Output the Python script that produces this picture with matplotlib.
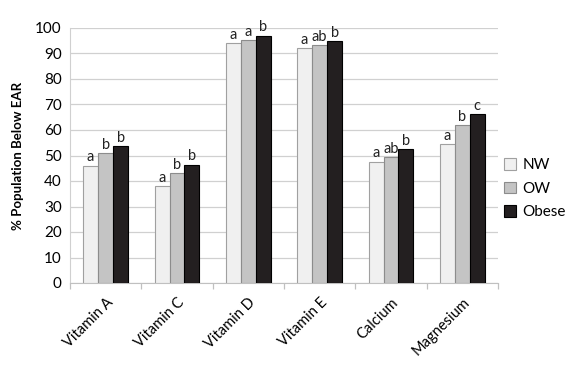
import numpy as np
import matplotlib.pyplot as plt

plt.rcParams['font.family'] = ['Lato', 'DejaVu Sans']

nutrients = ['Vitamin A', 'Vitamin C', 'Vitamin D', 'Vitamin E', 'Calcium', 'Magnesium']
groups = ['NW', 'OW', 'Obese']
nw = [46.0, 38.0, 94.1, 92.0, 47.6, 54.4]
ow = [50.9, 43.1, 95.2, 93.2, 49.3, 61.8]
obese = [53.8, 46.4, 97.0, 94.8, 52.4, 66.3]
nw_sig = ['a', 'a', 'a', 'a', 'a', 'a']
ow_sig = ['b', 'b', 'a', 'ab', 'ab', 'b']
obese_sig = ['b', 'b', 'b', 'b', 'b', 'c']

colors = ['#f0f0f0', '#c4c4c4', '#231f20']
edges = ['#a0a0a0', '#8c8c8c', '#000000']

fig = plt.figure(figsize=(5.7, 3.66), dpi=100)
ax = fig.add_axes([70 / 570, 1 - 283 / 366, 428 / 570, 255 / 366])

x = np.arange(len(nutrients))
w = 0.21
series = [nw, ow, obese]
sigs = [nw_sig, ow_sig, obese_sig]
for i, (vals, lab) in enumerate(zip(series, sigs)):
    pos = x + (i - 1) * w
    ax.bar(pos, vals, w, color=colors[i], edgecolor=edges[i], linewidth=0.8,
           label=groups[i], zorder=3)
    for p, v, s in zip(pos, vals, lab):
        ax.text(p, v + 0.5, s, ha='center', va='bottom', fontsize=10.5, color='#222222')

ax.set_xlim(-0.5, len(nutrients) - 0.5)
ax.set_ylim(0, 100)
ax.set_yticks(np.arange(0, 101, 10))
ax.grid(axis='y', color='#d0d0d0', linewidth=0.9, zorder=0)
ax.tick_params(axis='y', length=0, labelsize=11, pad=6)

ax.set_xticks(x)
ax.set_xticklabels(nutrients, rotation=45, ha='right', rotation_mode='anchor', fontsize=10.5)
ax.tick_params(axis='x', length=0, pad=9)
ax.set_xticks(np.arange(-0.5, len(nutrients), 1), minor=True)
ax.tick_params(axis='x', which='minor', length=4, color='#c0c0c0', width=0.9)

for s in ['top', 'right']:
    ax.spines[s].set_visible(False)
ax.spines['left'].set_color('#d0d0d0')
ax.spines['bottom'].set_color('#c0c0c0')

ax.set_ylabel('% Population Below EAR', fontsize=9.5, fontweight='bold', labelpad=8)

ax.legend(loc='center left', bbox_to_anchor=(1.0, 0.37), frameon=False, fontsize=11,
          handlelength=0.8, handleheight=0.8, handletextpad=0.4, labelspacing=0.6,
          borderaxespad=0.0)

plt.savefig('out.png', dpi=100)
